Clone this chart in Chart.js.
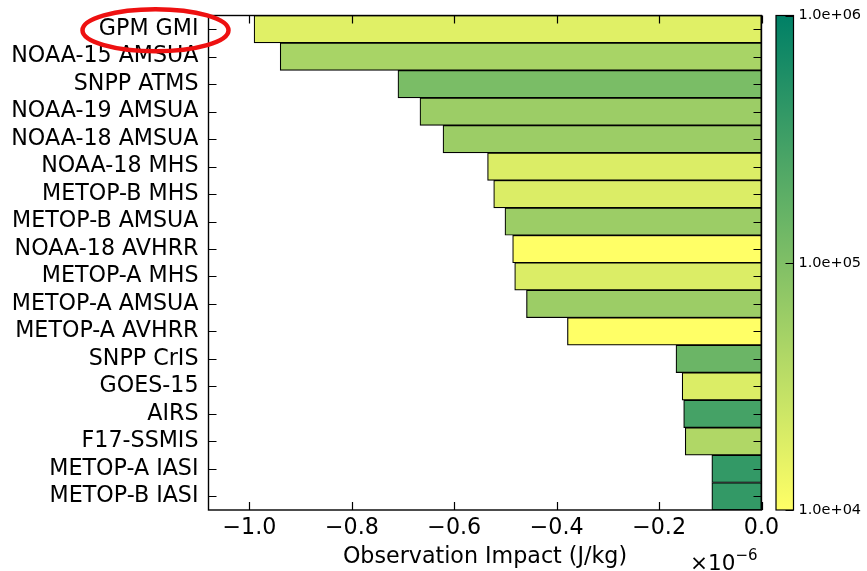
<!DOCTYPE html>
<html>
<head>
<meta charset="utf-8">
<script src="https://cdn.jsdelivr.net/npm/chart.js@4.4.1/dist/chart.umd.min.js"></script>
<style>
  html, body { margin: 0; padding: 0; background: #fff; }
</style>
</head>
<body>
<canvas id="chart" width="867" height="571"></canvas>
<script>
'use strict';

// instruments, top to bottom
const labels = [
  'GPM GMI', 'NOAA-15 AMSUA', 'SNPP ATMS', 'NOAA-19 AMSUA', 'NOAA-18 AMSUA',
  'NOAA-18 MHS', 'METOP-B MHS', 'METOP-B AMSUA', 'NOAA-18 AVHRR', 'METOP-A MHS',
  'METOP-A AMSUA', 'METOP-A AVHRR', 'SNPP CrIS', 'GOES-15', 'AIRS', 'F17-SSMIS',
  'METOP-A IASI', 'METOP-B IASI'
];
// observation impact, in units of 1e-6 J/kg
const impact = [
  -0.991, -0.940, -0.710, -0.667, -0.622,
  -0.535, -0.523, -0.501, -0.486, -0.482,
  -0.459, -0.379, -0.167, -0.155, -0.152, -0.149,
  -0.097, -0.097
];
// number of observations (bar colour, log scale)
const counts = [
  17400, 48000, 110000, 60000, 60000,
  19000, 19000, 60000, 10000, 19000,
  60000, 10000, 145000, 19000, 290000, 42000,
  400000, 400000
];
const xTicks = [-1.0, -0.8, -0.6, -0.4, -0.2, 0.0];
const cbTicks = [1e4, 1e5, 1e6];
const cbMin = 1e4, cbMax = 1e6;

const FONT = "'DejaVu Sans', sans-serif";

// matplotlib "summer_r" on a log norm
function cnorm(n){
  const t = (Math.log10(n) - Math.log10(cbMin)) / (Math.log10(cbMax) - Math.log10(cbMin));
  return Math.min(1, Math.max(0, t));
}
function summerR(t){
  const x = 1 - t;
  return 'rgb(' + Math.round(255 * x) + ',' + Math.round(255 * (0.5 + x / 2)) + ',' + Math.round(255 * 0.4) + ')';
}
function fmtTick(v){
  const s = Math.abs(v).toFixed(1);
  return (v < -1e-9 ? '\u2212' : '') + s;
}

const frame = {
  id: 'frame',
  afterDraw(chart){
    const { ctx, chartArea: a, scales: { x, y } } = chart;
    ctx.save();
    ctx.strokeStyle = '#000';
    // inward ticks on all four sides
    ctx.lineWidth = 1.2;
    x.ticks.forEach((t, i) => {
      const px = Math.round(x.getPixelForTick(i)) + 0.5;
      ctx.beginPath();
      ctx.moveTo(px, a.bottom); ctx.lineTo(px, a.bottom - 8);
      ctx.moveTo(px, a.top); ctx.lineTo(px, a.top + 8);
      ctx.stroke();
    });
    y.ticks.forEach((t, i) => {
      const py = Math.round(y.getPixelForTick(i)) + 0.5;
      ctx.beginPath();
      ctx.moveTo(a.left, py); ctx.lineTo(a.left + 8, py);
      ctx.moveTo(a.right, py); ctx.lineTo(a.right - 8, py);
      ctx.stroke();
    });
    // spines
    ctx.lineWidth = 1.4;
    ctx.strokeRect(a.left, a.top, a.right - a.left, a.bottom - a.top);

    // offset text
    ctx.fillStyle = '#000';
    ctx.textBaseline = 'alphabetic';
    ctx.textAlign = 'right';
    ctx.font = '15px ' + FONT;
    const supW = ctx.measureText('\u22126').width;
    ctx.fillText('\u22126', a.right - 4, 560);
    ctx.font = '21.5px ' + FONT;
    ctx.fillText('\u00d710', a.right - 4 - supW, 570);

    // colour bar
    const cx = a.right + 14.5, cw = 17.5;
    const grad = ctx.createLinearGradient(0, a.top, 0, a.bottom);
    for (let k = 0; k <= 10; k++) grad.addColorStop(k / 10, summerR(1 - k / 10));
    ctx.fillStyle = grad;
    ctx.fillRect(cx, a.top, cw, a.bottom - a.top);
    ctx.lineWidth = 1.2;
    ctx.strokeRect(cx, a.top, cw, a.bottom - a.top);
    ctx.font = '14.5px ' + FONT;
    ctx.textAlign = 'left';
    ctx.textBaseline = 'middle';
    ctx.fillStyle = '#000';
    cbTicks.forEach(v => {
      const py = a.bottom - cnorm(v) * (a.bottom - a.top);
      ctx.lineWidth = 1;
      ctx.beginPath();
      ctx.moveTo(cx + cw, Math.round(py) + 0.5); ctx.lineTo(cx + cw - 8, Math.round(py) + 0.5);
      ctx.stroke();
      ctx.fillText(v.toExponential(1).replace(/e([+-])(\d)$/, 'e$10$2'), cx + cw + 5, py);
    });

    // red highlight round the first label
    ctx.strokeStyle = '#ee1111';
    ctx.lineWidth = 4.5;
    ctx.beginPath();
    ctx.ellipse(155.5, y.getPixelForValue(0) + 1, 73, 21, 0, 0, Math.PI * 2);
    ctx.stroke();
    ctx.restore();
  }
};

new Chart(document.getElementById('chart'), {
  type: 'bar',
  data: {
    labels,
    datasets: [{
      data: impact,
      backgroundColor: counts.map(n => summerR(cnorm(n))),
      borderColor: '#000',
      borderWidth: 1.2,
      borderSkipped: false,
      categoryPercentage: 1,
      barPercentage: 1
    }]
  },
  options: {
    indexAxis: 'y',
    responsive: false,
    animation: false,
    devicePixelRatio: 1,
    layout: { padding: { top: 15.5, right: 105.5, left: 0, bottom: 0 } },
    plugins: { legend: { display: false }, tooltip: { enabled: false } },
    scales: {
      x: {
        type: 'linear', min: -1.08, max: 0,
        grid: { display: false, drawTicks: false },
        border: { display: false },
        afterBuildTicks: s => { s.ticks = xTicks.map(v => ({ value: v })); },
        afterFit: s => { s.height = 61; s.paddingLeft = 0; s.paddingRight = 0; },
        ticks: { color: '#000', padding: 5, maxRotation: 0, font: { family: FONT, size: 22.2 }, callback: v => fmtTick(v) },
        title: { display: true, text: 'Observation Impact (J/kg)', color: '#000', padding: { top: 0, bottom: 0 }, font: { family: FONT, size: 22.2 } }
      },
      y: {
        grid: { display: false, drawTicks: false },
        border: { display: false },
        afterFit: s => { s.width = 208.5; s.paddingTop = 0; s.paddingBottom = 0; },
        ticks: { color: '#000', padding: 10, autoSkip: false, font: { family: FONT, size: 22.2 } }
      }
    }
  },
  plugins: [frame]
});
</script>
</body>
</html>
